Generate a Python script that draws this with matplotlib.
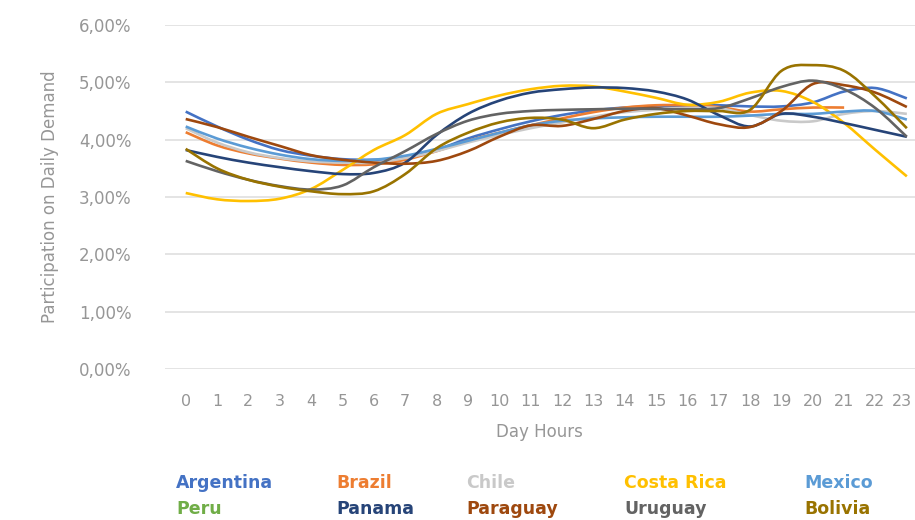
import numpy as np
import matplotlib.pyplot as plt
import matplotlib.transforms as mtransforms
from matplotlib.path import Path
from matplotlib.patches import PathPatch
from matplotlib.ticker import FuncFormatter

# --- hourly share of daily demand (%) per country ---
hours = list(range(24))

argentina = [4.49, 4.23, 4.00, 3.82, 3.72, 3.66, 3.65, 3.68, 3.82, 4.02, 4.18, 4.32,
             4.43, 4.51, 4.56, 4.58, 4.60, 4.60, 4.58, 4.58, 4.65, 4.84, 4.90, 4.72]
brazil = [4.13, 3.90, 3.76, 3.67, 3.60, 3.56, 3.57, 3.65, 3.80, 3.98, 4.12, 4.25,
          4.37, 4.48, 4.56, 4.60, 4.60, 4.57, 4.49, 4.53, 4.56, 4.56]
chile = [4.20, 3.95, 3.78, 3.68, 3.62, 3.60, 3.60, 3.68, 3.80, 3.95, 4.08, 4.20,
         4.30, 4.40, 4.48, 4.52, 4.55, 4.55, 4.43, 4.33, 4.32, 4.45, 4.50, 4.45]
costa_rica = [3.07, 2.96, 2.93, 2.97, 3.14, 3.47, 3.82, 4.08, 4.45, 4.62, 4.77, 4.88,
              4.94, 4.93, 4.84, 4.73, 4.61, 4.66, 4.82, 4.85, 4.66, 4.29, 3.82, 3.36]
mexico = [4.23, 4.02, 3.86, 3.74, 3.66, 3.63, 3.65, 3.72, 3.84, 3.98, 4.12, 4.25,
          4.33, 4.37, 4.39, 4.40, 4.40, 4.40, 4.42, 4.45, 4.45, 4.49, 4.50, 4.35]
peru = []
panama = [3.82, 3.70, 3.60, 3.52, 3.45, 3.40, 3.42, 3.60, 4.08, 4.45, 4.68, 4.82,
          4.88, 4.91, 4.90, 4.84, 4.70, 4.43, 4.23, 4.45, 4.40, 4.29, 4.17, 4.05]
paraguay = [4.36, 4.22, 4.05, 3.89, 3.73, 3.65, 3.60, 3.58, 3.63, 3.80, 4.05, 4.25,
            4.24, 4.36, 4.50, 4.55, 4.42, 4.27, 4.22, 4.50, 4.97, 4.95, 4.82, 4.57]
uruguay = [3.63, 3.45, 3.30, 3.19, 3.13, 3.20, 3.52, 3.80, 4.10, 4.33, 4.45, 4.50,
           4.52, 4.53, 4.54, 4.54, 4.53, 4.55, 4.72, 4.92, 5.03, 4.88, 4.55, 4.05]
bolivia = [3.84, 3.50, 3.30, 3.18, 3.10, 3.05, 3.10, 3.40, 3.85, 4.12, 4.30, 4.38,
           4.35, 4.20, 4.35, 4.45, 4.50, 4.50, 4.52, 5.20, 5.30, 5.20, 4.75, 4.20]

countries = ["Argentina", "Brazil", "Chile", "Costa Rica", "Mexico",
             "Peru", "Panama", "Paraguay", "Uruguay", "Bolivia"]
values = [argentina, brazil, chile, costa_rica, mexico,
          peru, panama, paraguay, uruguay, bolivia]
colors = ["#4472C4", "#ED7D31", "#C9C9C9", "#FFC000", "#5B9BD5",
          "#70AD47", "#264478", "#9E480E", "#636363", "#997300"]

text_gray = "#969696"


def smooth_path(x, y):
    """Cubic Bezier through every point, tangents Catmull-Rom style."""
    pts = np.column_stack([x, y]).astype(float)
    n = len(pts)
    verts = [pts[0]]
    codes = [Path.MOVETO]
    for i in range(n - 1):
        p0 = pts[max(i - 1, 0)]
        p1 = pts[i]
        p2 = pts[i + 1]
        p3 = pts[min(i + 2, n - 1)]
        verts += [p1 + (p2 - p0) / 6, p2 - (p3 - p1) / 6, p2]
        codes += [Path.CURVE4] * 3
    return Path(verts, codes)


fig = plt.figure(figsize=(9.15, 5.2), dpi=100)
ax = fig.add_axes([0.180, 0.2904, 0.820, 0.6615])

for name, vals, col in zip(countries, values, colors):
    if not vals:
        continue
    path = smooth_path(hours[:len(vals)], vals)
    ax.add_patch(PathPatch(path, fill=False, edgecolor=col, lw=1.9,
                           capstyle='butt', joinstyle='round', zorder=3))

ax.set_xlim(-0.67, 23.26)
ax.set_ylim(0, 6)
ax.set_xticks(hours)
ax.set_yticks(np.arange(0, 7, 1))
ax.yaxis.set_major_formatter(FuncFormatter(lambda v, p: f"{v:.2f}%".replace('.', ',')))

for s in ax.spines.values():
    s.set_visible(False)
ax.yaxis.grid(True, color='#dcdcdc', linewidth=1.1)
ax.set_axisbelow(True)
ax.tick_params(axis='both', length=0, colors=text_gray)
ax.tick_params(axis='y', pad=24, labelsize=12)
ax.tick_params(axis='x', pad=18, labelsize=11.5)

# last hour label sits a bit left so it stays inside the canvas
last = ax.get_xticklabels()[-1]
last.set_transform(last.get_transform() +
                   mtransforms.ScaledTranslation(-5 / 100, 0, fig.dpi_scale_trans))

ax.set_xlabel('Day Hours', fontsize=12, color=text_gray, labelpad=10)
ax.set_ylabel('Participation on Daily Demand', fontsize=12, color=text_gray, labelpad=14)

# coloured country names in two rows instead of a boxed legend
col_x = [176, 336, 466, 624, 804]
row_y = [483, 509]
for k, (name, col) in enumerate(zip(countries, colors)):
    fig.text(col_x[k % 5] / 915, 1 - row_y[k // 5] / 520, name, color=col,
             fontsize=12.5, fontweight='bold', ha='left', va='center')

plt.savefig('out.png', dpi=100)
